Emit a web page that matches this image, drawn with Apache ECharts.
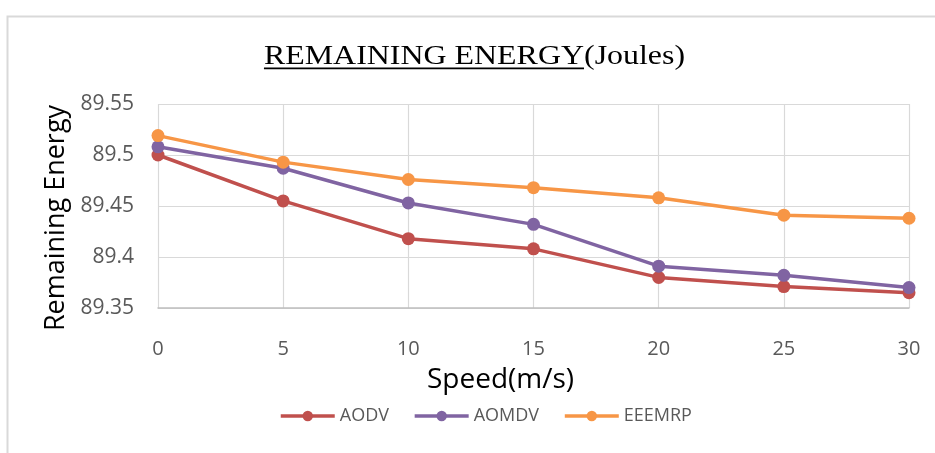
<!DOCTYPE html>
<html>
<head>
<meta charset="utf-8">
<script src="https://cdn.jsdelivr.net/npm/echarts@6/dist/echarts.min.js"></script>
<style>
html,body{margin:0;padding:0;background:#fff;}
#c{width:935px;height:453px;}
</style>
</head>
<body>
<div id="c"></div>
<script>
const speeds = [0, 5, 10, 15, 20, 25, 30];
const aodv   = [89.500, 89.455, 89.418, 89.408, 89.380, 89.371, 89.365];
const aomdv  = [89.508, 89.487, 89.453, 89.432, 89.391, 89.382, 89.370];
const eeemrp = [89.519, 89.493, 89.476, 89.468, 89.458, 89.441, 89.438];
const seriesNames = ['AODV', 'AOMDV', 'EEEMRP'];
const yTicks = [89.35, 89.4, 89.45, 89.5, 89.55];

const titleMain = 'REMAINING ENERGY';
const titleSub = '(Joules)';
const titleFont = '28px "Liberation Serif"';
const titleScale = 1.14;

const cv = document.createElement('canvas').getContext('2d');
cv.font = titleFont;
const wMain = cv.measureText(titleMain).width;
const wAll = cv.measureText(titleMain + titleSub).width;
const titleLeft = 474.5 - wAll * titleScale / 2;

const colors = ['#c0504d', '#8064a2', '#f79646'];
const dataSets = [aodv, aomdv, eeemrp];

const chart = echarts.init(document.getElementById('c'), null, {renderer: 'canvas'});
chart.setOption({
  animation: false,
  color: colors,
  graphic: [
    {type: 'rect', left: 5, top: 14, shape: {width: 1000, height: 500},
     style: {fill: 'none', stroke: '#d9d9d9', lineWidth: 2}, silent: true},
    {type: 'group', x: titleLeft, y: 0, scaleX: titleScale, children: [
      {type: 'text', x: 0, y: 57, style: {text: titleMain + titleSub, font: titleFont, fill: '#000', verticalAlign: 'middle', align: 'left'}},
      {type: 'rect', shape: {x: 0, y: 67.5, width: wMain, height: 1.8}, style: {fill: '#000'}}
    ]}
  ],
  grid: {left: 158, right: 26, top: 104, bottom: 145, containLabel: false},
  legend: {
    bottom: 23, left: 274,
    itemWidth: 54, itemHeight: 13, itemGap: 24,
    lineStyle: {width: 3.5},
    textStyle: {fontFamily: 'Open Sans', fontSize: 18, color: '#595959'},
    data: seriesNames
  },
  xAxis: {
    type: 'value', min: 0, max: 30, interval: 5,
    name: 'Speed(m/s)', nameLocation: 'middle', nameGap: 58,
    nameTextStyle: {fontFamily: 'Open Sans', fontSize: 28, color: '#000', padding: [0, 66, 0, 0]},
    axisLine: {show: true, lineStyle: {color: '#bfbfbf', width: 1.5}},
    axisTick: {show: false},
    axisLabel: {margin: 31, fontFamily: 'Open Sans', fontSize: 20, color: '#595959'},
    splitLine: {show: true, lineStyle: {color: '#d9d9d9', width: 1.2}}
  },
  yAxis: {
    type: 'value', min: yTicks[0], max: yTicks[yTicks.length - 1], interval: 0.05,
    name: 'Remaining Energy', nameLocation: 'middle', nameGap: 86,
    nameTextStyle: {fontFamily: 'Open Sans', fontSize: 27, color: '#000', padding: [0, 24, 0, 0]},
    axisLine: {show: false},
    axisTick: {show: false},
    axisLabel: {margin: 24, fontFamily: 'Open Sans', fontSize: 21, color: '#595959',
      formatter: v => String(+v.toFixed(2))},
    splitLine: {show: true, lineStyle: {color: '#d9d9d9', width: 1.2}}
  },
  series: dataSets.map((d, i) => ({
    name: seriesNames[i],
    type: 'line',
    data: speeds.map((s, j) => [s, d[j]]),
    symbol: 'circle', symbolSize: 13,
    lineStyle: {width: 3.5, color: colors[i]},
    itemStyle: {color: colors[i]}
  }))
});
</script>
</body>
</html>
